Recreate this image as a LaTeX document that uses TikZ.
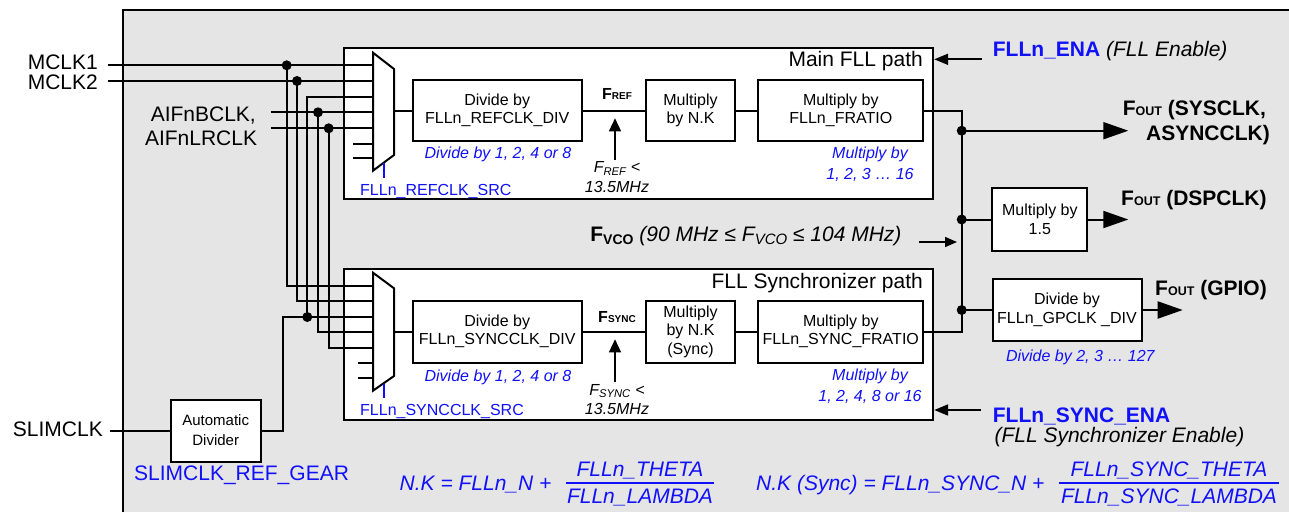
\documentclass[tikz,border=0pt]{standalone}
\usepackage{fontspec}
\setmainfont{Liberation Sans}
\usetikzlibrary{arrows.meta}
\definecolor{bggray}{RGB}{229,229,229}
\definecolor{cblue}{RGB}{16,16,250}
\newcommand\fsz[2]{\fontsize{#1}{#2}\selectfont}
\newcommand\subB[1]{{\fontsize{10}{10}\selectfont\bfseries #1}}
\newcommand\fout{F{\fontsize{12.5}{12.5}\selectfont OUT}}
\begin{document}
\begin{tikzpicture}[x=1pt,y=-1pt,
  wire/.style={line width=2pt},
  selw/.style={line width=1.5pt,draw=cblue},
  blk/.style={draw,line width=2pt,fill=white,inner sep=0pt,align=center,font=\fsz{16}{18.5}},
  pathbox/.style={draw,line width=2pt,fill=white,inner sep=0pt},
  junc/.style={circle,fill=black,inner sep=0pt,minimum size=10pt},
  lbl/.style={inner sep=0pt,font=\fsz{21}{25}},
  bluenote/.style={inner sep=0pt,text=cblue,font=\fsz{16}{21}\itshape,align=center},
  formula/.style={inner sep=0pt,text=cblue,font=\fsz{21}{21}\itshape},
  bigarrow/.style={wire,-{Triangle[length=25pt,width=17pt]}},
  enarrow/.style={wire,-{Triangle[length=14pt,width=11pt]}},
  uparrow/.style={line width=1.4pt,-{Triangle[length=13pt,width=12pt]}},
]
\useasboundingbox (0,0) rectangle (1289,512);
\fill[bggray] (123,10) rectangle (1289,512);
\draw[line width=2.8pt] (123,512) -- (123,10) -- (1289,10);

% path boxes
\node[pathbox,minimum width=589pt,minimum height=151pt] (mainp) at (638.7,123.3) {};
\node[pathbox,minimum width=589pt,minimum height=151pt] (syncp) at (638.7,344.5) {};

% input coordinates
\coordinate (i1) at (108,65.3);
\coordinate (i2) at (108,81);
\coordinate (i4) at (270.7,112.3);
\coordinate (i5) at (270.7,128.3);
\coordinate (a1) at (373,65.3);
\coordinate (a2) at (373,81);
\coordinate (a3) at (373,97);
\coordinate (a4) at (373,112.3);
\coordinate (a5) at (373,128.3);
\coordinate (b1) at (373,285.7);
\coordinate (b2) at (373,301.3);
\coordinate (b3) at (373,317);
\coordinate (b4) at (373,332.3);
\coordinate (b5) at (373,348.3);

% automatic divider
\node[blk,minimum width=90pt,minimum height=62pt,font=\fsz{15}{20}] (ad) at (215.7,430.5) {Automatic\\Divider};

% wires from inputs
\draw[wire] (i1) -- (a1);
\draw[wire] (i2) -- (a2);
\draw[wire] (i4) -- (a4);
\draw[wire] (i5) -- (a5);
\draw[wire] (286.7,65.3) -- (286.7,285.7) -- (b1);
\draw[wire] (297,81) -- (297,301.3) -- (b2);
\draw[wire] (a3) -- (307.3,97) -- (307.3,317);
\draw[wire] (ad.east) -- (283.3,430.5) -- (283.3,317) -- (b3);
\draw[wire] (318,112.3) -- (318,332.3) -- (b4);
\draw[wire] (328.7,128.3) -- (328.7,348.3) -- (b5);
\coordinate (sl) at (110,430.5);
\draw[wire] (sl) -- (ad.west);
% stubs
\draw[wire] (353,143.7) -- (373,143.7);
\draw[wire] (353,158.3) -- (373,158.3);
\draw[wire] (358,363.3) -- (373,363.3);
\draw[wire] (358,378.3) -- (373,378.3);

\node[junc] (j1a) at (286.7,65.3) {};
\node[junc] (j2a) at (297,81) {};
\node[junc] (j4a) at (318,112.3) {};
\node[junc] (j5a) at (328.7,128.3) {};
\node[junc] (j3b) at (307.3,317) {};

% muxes
\draw[wire,fill=white] (373,52.7) -- (394,69) -- (394,155) -- (373,170.7) -- cycle;
\draw[wire,fill=white] (373,272.7) -- (394,288.3) -- (394,376) -- (373,390.7) -- cycle;
\coordinate (mux1o) at (394,110.5);
\coordinate (mux2o) at (394,331.5);
\draw[selw] (384,163) -- (384,178);
\draw[selw] (384,384) -- (384,398);

% main chain
\node[blk,minimum width=169pt,minimum height=61pt] (div1) at (497.2,110.5) {Divide by\\FLLn\_REFCLK\_DIV};
\node[blk,minimum width=89pt,minimum height=61pt] (nk1) at (690.5,110.5) {Multiply\\by N.K};
\node[blk,minimum width=165pt,minimum height=61pt] (fr1) at (840.8,110.5) {Multiply by\\FLLn\_FRATIO};
\draw[wire] (mux1o) -- (div1.west);
\draw[wire] (div1.east) -- (nk1.west);
\draw[wire] (nk1.east) -- (fr1.west);

% sync chain
\node[blk,minimum width=169pt,minimum height=62pt] (div2) at (497.2,331.5) {Divide by\\FLLn\_SYNCCLK\_DIV};
\node[blk,minimum width=89pt,minimum height=62pt] (nk2) at (690.5,331.5) {Multiply\\by N.K\\(Sync)};
\node[blk,minimum width=165pt,minimum height=62pt] (fr2) at (840.8,331.5) {Multiply by\\FLLn\_SYNC\_FRATIO};
\draw[wire] (mux2o) -- (div2.west);
\draw[wire] (div2.east) -- (nk2.west);
\draw[wire] (nk2.east) -- (fr2.west);

% outputs
\node[blk,minimum width=95pt,minimum height=62.7pt] (m15) at (1039.8,219.5) {Multiply by\\1.5};
\node[blk,minimum width=149pt,minimum height=62pt] (gp) at (1067,310) {Divide by\\FLLn\_GPCLK \_DIV};
\coordinate (vt) at (961.7,110.5);
\coordinate (vb) at (961.7,331.5);
\draw[wire] (fr1.east) -- (vt) -- (vb) -- (fr2.east);
\node[junc] (j1) at (961.7,130.7) {};
\node[junc] (j2) at (961.7,219.5) {};
\node[junc] (j3) at (961.7,310) {};
\coordinate (o1) at (1128.3,130.7);
\coordinate (o2) at (1128.3,219.5);
\coordinate (o3) at (1182.7,310);
\draw[bigarrow] (j1.center) -- (o1);
\draw[wire] (j2.center) -- (m15.west);
\draw[bigarrow] (m15.east) -- (o2);
\draw[wire] (j3.center) -- (gp.west);
\draw[bigarrow] (gp.east) -- (o3);

% enable arrows
\coordinate (enas) at (981.7,59.3);
\draw[enarrow] (enas) -- (enas -| mainp.east);
\coordinate (senas) at (981,410);
\draw[enarrow] (senas) -- (senas -| syncp.east);
\coordinate (vcos) at (919.3,242);
\coordinate (vcoe) at (957,242);
\draw[line width=1.5pt,-{Triangle[length=12pt,width=10pt]}] (vcos) -- (vcoe);

% F_REF / F_SYNC arrows
\coordinate (fra) at (615,160);
\coordinate (frb) at (615,118.3);
\draw[uparrow] (fra) -- (frb);
\coordinate (fsa) at (615,381.7);
\coordinate (fsb) at (615,339.3);
\draw[uparrow] (fsa) -- (fsb);

% labels
\node[lbl,anchor=base east] (tm1) at (98,69.3) {MCLK1};
\node[lbl,anchor=base east] (tm2) at (98,89.3) {MCLK2};
\node[lbl,anchor=base east] (taif1) at (256,121.7) {AIFnBCLK,};
\node[lbl,anchor=base east] (taif2) at (257.3,145) {AIFnLRCLK};
\node[lbl,anchor=base east] (tslim) at (103,436) {SLIMCLK};
\node[lbl,anchor=base east] (tmain) at (923,66.7) {Main FLL path};
\node[lbl,anchor=base east] (tsyncp) at (923,288.3) {FLL Synchronizer path};

\node[inner sep=0pt,anchor=base,font=\fsz{16}{16}\bfseries] (tfref) at (617,99.3) {F\subB{REF}};
\node[inner sep=0pt,anchor=base,font=\fsz{16}{16}\bfseries] (tfsync) at (617,322.7) {F\subB{SYNC}};
\node[inner sep=0pt,align=center,font=\fsz{16}{19.5}\itshape] (nfref) at (617,177) {F\textsubscript{REF} <\\13.5MHz};
\node[inner sep=0pt,align=center,font=\fsz{16}{19.5}\itshape] (nfsync) at (617,399.5) {F\textsubscript{SYNC} <\\13.5MHz};

\node[inner sep=0pt,anchor=base west,text=cblue,font=\fsz{16}{16}] (tsrc1) at (360,195.7) {FLLn\_REFCLK\_SRC};
\node[inner sep=0pt,anchor=base west,text=cblue,font=\fsz{16}{16}] (tsrc2) at (360,415.7) {FLLn\_SYNCCLK\_SRC};
\node[bluenote,anchor=base] (ndiv1) at (498,158.7) {Divide by 1, 2, 4 or 8};
\node[bluenote,anchor=base] (ndiv2) at (498,381.7) {Divide by 1, 2, 4 or 8};
\node[bluenote] (nmul1) at (870,163.8) {Multiply by\\1, 2, 3 … 16};
\node[bluenote] (nmul2) at (870,386.3) {Multiply by\\1, 2, 4, 8 or 16};
\node[bluenote,anchor=base] (ngp) at (1080.3,361) {Divide by 2, 3 … 127};

\node[lbl,anchor=base west] (tena) at (992.7,56.7) {\textcolor{cblue}{\bfseries FLLn\_ENA} \textit{(FLL Enable)}};
\node[lbl,anchor=base west,text=cblue,font=\fsz{21}{25}\bfseries] (tsena) at (992.7,422.7) {FLLn\_SYNC\_ENA};
\node[lbl,anchor=base west,font=\fsz{21}{25}\itshape] (tsena2) at (994.3,442) {(FLL Synchronizer Enable)};

\node[lbl,anchor=base west,font=\fsz{21}{25}\bfseries] (to1) at (1122.7,115) {\fout\ (SYSCLK,};
\node[lbl,anchor=base east,font=\fsz{21}{25}\bfseries] (to1b) at (1270,140) {ASYNCCLK)};
\node[lbl,anchor=base west,font=\fsz{21}{25}\bfseries] (to2) at (1121,205) {\fout\ (DSPCLK)};
\node[lbl,anchor=base west,font=\fsz{21}{25}\bfseries] (to3) at (1155,295) {\fout\ (GPIO)};

\node[lbl,anchor=base east,font=\fsz{21}{21}] (tvco) at (901.7,241.7) {\textbf{F}\raisebox{-3pt}{\fontsize{14}{14}\selectfont\bfseries VCO} \textit{(90 MHz ≤ F\raisebox{-3pt}{\fontsize{15}{15}\selectfont VCO} ≤ 104 MHz)}};

\node[lbl,anchor=base west,text=cblue] (tgear) at (134,480) {SLIMCLK\_REF\_GEAR};

% formulas
\node[formula,anchor=base west] (f1l) at (399.5,490) {N.K = FLLn\_N +};
\node[formula,anchor=base] (f1n) at (640,476.7) {FLLn\_THETA};
\node[formula,anchor=base] (f1d) at (640,503.3) {FLLn\_LAMBDA};
\coordinate (f1a) at (566,482.7);
\coordinate (f1b) at (714,482.7);
\draw[cblue,line width=1.6pt] (f1a) -- (f1b);
\node[formula,anchor=base west] (f2l) at (756,490) {N.K (Sync) = FLLn\_SYNC\_N +};
\node[formula,anchor=base] (f2n) at (1169,476.7) {FLLn\_SYNC\_THETA};
\node[formula,anchor=base] (f2d) at (1169,503.3) {FLLn\_SYNC\_LAMBDA};
\coordinate (f2a) at (1059,482.7);
\coordinate (f2b) at (1279,482.7);
\draw[cblue,line width=1.6pt] (f2a) -- (f2b);
\end{tikzpicture}
\end{document}
